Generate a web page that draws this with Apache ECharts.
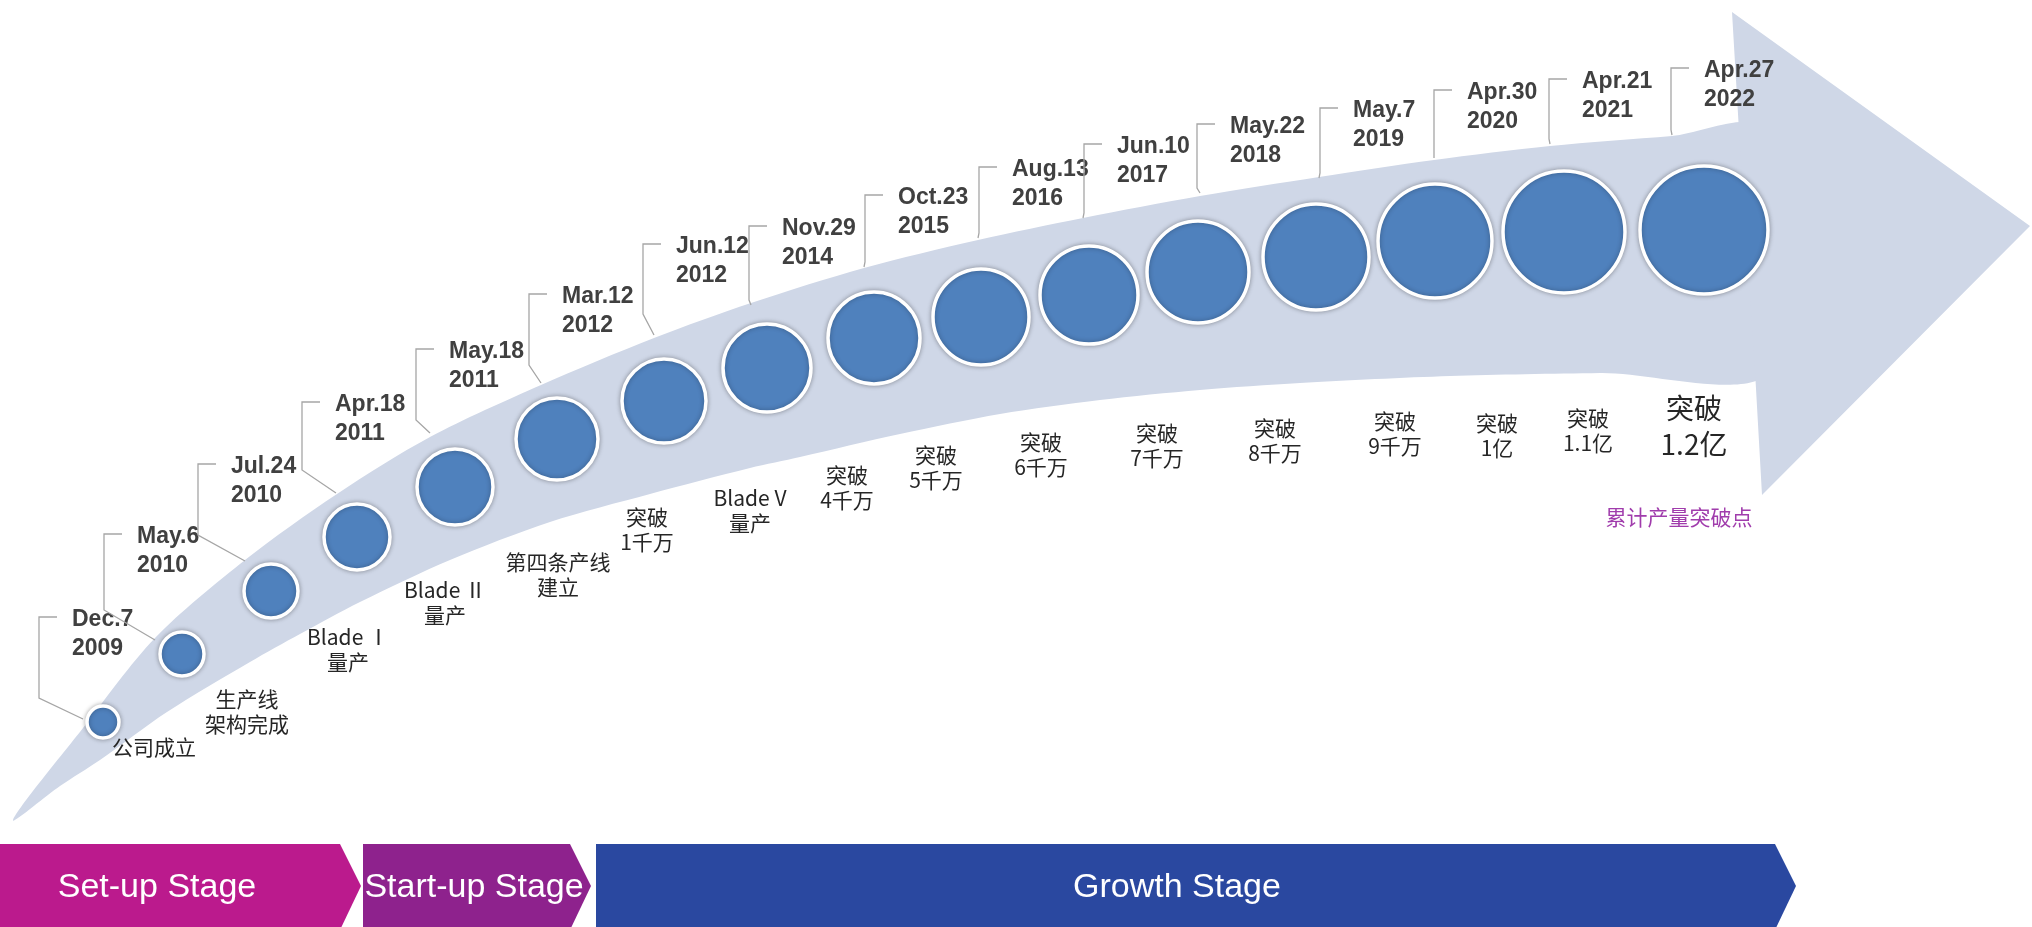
<!DOCTYPE html>
<html><head><meta charset="utf-8">
<script src="https://cdn.jsdelivr.net/npm/echarts@6/dist/echarts.min.js"></script>
<style>html,body{margin:0;padding:0;background:#fff;overflow:hidden}#c{width:2032px;height:927px}</style>
</head><body><div id="c"></div>
<script>
// ---- data ----
const dates = ['Dec.7','May.6','Jul.24','Apr.18','May.18','Mar.12','Jun.12','Nov.29','Oct.23','Aug.13','Jun.10','May.22','May.7','Apr.30','Apr.21','Apr.27'];
const years = ['2009','2010','2010','2011','2011','2012','2012','2014','2015','2016','2017','2018','2019','2020','2021','2022'];
const milestones = ['公司成立','生产线\n架构完成','Blade Ⅰ\n量产','Blade Ⅱ\n量产','第四条产线\n建立','突破\n1千万','Blade V\n量产','突破\n4千万','突破\n5千万','突破\n6千万','突破\n7千万','突破\n8千万','突破\n9千万','突破\n1亿','突破\n1.1亿','突破\n1.2亿'];
const circleX = [103,182,271,357,455,557,664,767,874,981,1089,1198,1316,1435,1564,1704];
const circleY = [722,654,591,537,487,439,401,368,338,317,295,272,257,241,232,230];
const circleR = [17,23,28,34,39,42,43,45,47,49,50,52,54,58,62,65];
const stageNames = ['Set-up Stage','Start-up Stage','Growth Stage'];
const stageStart = [0,363,596];
const stageEnd = [340,570,1775];
const noteText = '累计产量突破点';

// ---- layout (positions) ----
const bandUpper = [[13,820],[83,728],[155,638],[245,560],[337,494],[430,437],[541,385],[654,338],[751,303],[864,268],[978,240],[1083,218],[1200,196],[1319,177],[1434,160],[1550,146],[1672,136],[1760,129]];
const bandLower = [[60,786],[100,760],[167,712],[250,662],[300,634],[360,602],[450,560],[550,522],[650,494],[750,468],[800,457],[900,434],[1000,414],[1100,400],[1200,390],[1300,383],[1450,376],[1600,373],[1770,371]];
const arrowHead = [[1739,131],[1732,12],[2030,226],[1762,495],[1755,371]];
const bracketX = [39,104,198,302,416,529,643,749,865,979,1084,1197,1320,1434,1549,1671];
const bracketTop = [617,534,464,402,349,294,244,226,195,167,144,124,108,90,79,68];
const bracketElbow = [698,610,535,470,420,365,314,300,262,233,213,188,173,153,139,130];
const bracketEndX = [83,155,245,336,430,541,654,751,864,978,1083,1200,1319,1434,1550,1672];
const bracketEndY = [719,640,561,493,433,383,335,305,267,238,218,193,178,158,144,135];
const labelX = [154,247,348,445,558,647,750,847,936,1041,1157,1275,1395,1497,1588,1694];
const labelY = [747,712,650,603,575,530,511,488,468,455,446,441,434,436,431,426];
const notePos = [1679,517];
const stageMidY = 886, stageTop = 844, stageBottom = 930, stageTip = 21;
const stageColors = ['#bb1a8d','#8e228d','#2a48a0'];
const stageTextX = [157,474,1177];

const chart = echarts.init(document.getElementById('c'));
const cjk = '"Noto Sans CJK SC", "Noto Sans", sans-serif';

chart.setOption({
  animation: false,
  grid: {left: 0, right: 0, top: 0, bottom: 0},
  xAxis: {type: 'value', min: 0, max: 2032, show: false},
  yAxis: {type: 'value', min: 0, max: 927, inverse: true, show: false},
  series: [
    { // band
      type: 'custom', z: 1, silent: true, data: [0],
      renderItem: (p, api) => {
        const pts = bandUpper.concat(bandLower.slice().reverse()).map(q => api.coord(q));
        return {type: 'polygon', shape: {points: pts, smooth: 0.3}, style: {fill: '#cfd7e7'}};
      }
    },
    { // arrow head
      type: 'custom', z: 1, silent: true, data: [0],
      renderItem: (p, api) => ({type: 'polygon', shape: {points: arrowHead.map(q => api.coord(q))}, style: {fill: '#cfd7e7'}})
    },
    { // connectors + dates
      type: 'custom', z: 2, silent: true, data: dates.map((d, i) => i),
      renderItem: (p, api) => {
        const i = p.dataIndex;
        const pts = [[bracketX[i] + 18, bracketTop[i]], [bracketX[i], bracketTop[i]], [bracketX[i], bracketElbow[i]], [bracketEndX[i], bracketEndY[i]]].map(q => api.coord(q));
        const t = api.coord([bracketX[i] + 33, bracketTop[i]]);
        return {type: 'group', children: [
          {type: 'polyline', shape: {points: pts}, style: {stroke: '#a6a6a6', lineWidth: 1.3, fill: null}},
          {type: 'text', x: t[0], y: t[1] - 11.5, style: {text: dates[i] + '\n' + years[i], font: 'bold 23px "Liberation Sans", Arial, sans-serif', fill: '#404040', lineHeight: 29, verticalAlign: 'top', align: 'left'}}
        ]};
      }
    },
    { // circles
      type: 'scatter', z: 3, silent: true,
      data: circleX.map((x, i) => [x, circleY[i], circleR[i]]),
      symbol: 'circle',
      symbolSize: d => d[2] * 2 - 2,
      itemStyle: {color: '#4f81bd', borderColor: '#ffffff', borderWidth: 3.5, shadowBlur: 5, shadowColor: 'rgba(0,0,0,0.3)', opacity: 1}
    },
    { // milestone labels
      type: 'custom', z: 4, silent: true, data: milestones.map((m, i) => i),
      renderItem: (p, api) => {
        const i = p.dataIndex;
        const c = api.coord([labelX[i], labelY[i]]);
        const big = i === milestones.length - 1;
        return {type: 'text', x: c[0], y: c[1], style: {text: milestones[i], font: (big ? '28px ' : '21px ') + cjk, fill: '#262626', align: 'center', verticalAlign: 'middle', lineHeight: big ? 36 : 25}};
      }
    },
    { // note
      type: 'custom', z: 4, silent: true, data: [0],
      renderItem: (p, api) => {
        const c = api.coord(notePos);
        return {type: 'text', x: c[0], y: c[1], style: {text: noteText, font: '21px ' + cjk, fill: '#a03cac', align: 'center', verticalAlign: 'middle'}};
      }
    },
    { // stages
      type: 'custom', z: 5, silent: true, data: stageNames.map((s, i) => i),
      renderItem: (p, api) => {
        const i = p.dataIndex;
        const pts = [[stageStart[i], stageTop], [stageEnd[i], stageTop], [stageEnd[i] + stageTip, stageMidY], [stageEnd[i], stageBottom], [stageStart[i], stageBottom]].map(q => api.coord(q));
        const t = api.coord([stageTextX[i], stageMidY + 2]);
        return {type: 'group', children: [
          {type: 'polygon', shape: {points: pts}, style: {fill: stageColors[i]}},
          {type: 'text', x: t[0], y: t[1], style: {text: stageNames[i], font: '34px "Liberation Sans", Arial, sans-serif', fill: '#ffffff', align: 'center', verticalAlign: 'middle'}}
        ]};
      }
    }
  ]
});
</script></body></html>
